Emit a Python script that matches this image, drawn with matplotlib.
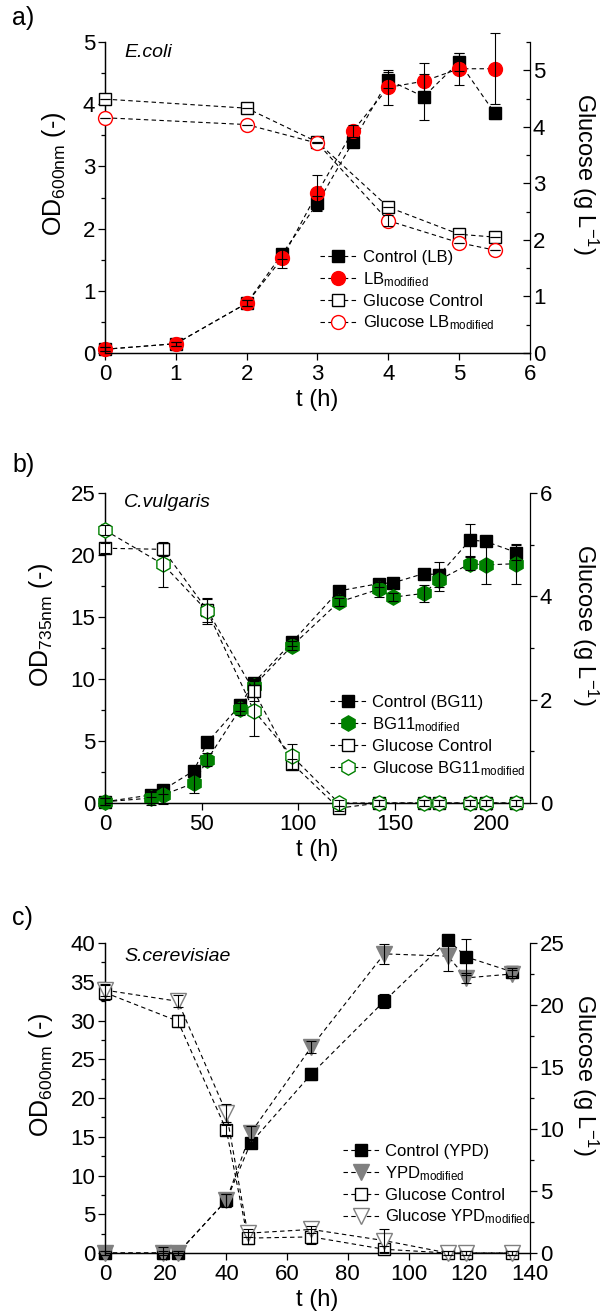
"""
Growth curves (OD) and glucose consumption for E. coli, C. vulgaris and
S. cerevisiae in control vs. modified media. Three stacked panels, twin y axes.
"""
import matplotlib
matplotlib.use("Agg")
import matplotlib.pyplot as plt
from matplotlib.ticker import MultipleLocator

plt.rcParams["font.family"] = ["Liberation Sans", "DejaVu Sans"]
plt.rcParams["mathtext.fontset"] = "custom"
plt.rcParams["mathtext.rm"] = "Liberation Sans"
plt.rcParams["mathtext.it"] = "Liberation Sans:italic"
plt.rcParams["mathtext.default"] = "regular"

# ---- a) E. coli ----
T_A       = [0, 1, 2, 2.5, 3, 3.5, 4, 4.5, 5, 5.5]
OD_LB     = [0.06, 0.15, 0.80, 1.59, 2.41, 3.39, 4.39, 4.12, 4.68, 3.86]
OD_LB_ERR = [0.03, 0.03, 0.05, 0.08, 0.12, 0.05, 0.13, 0.37, 0.15, 0.10]
OD_LBM     = [0.06, 0.15, 0.80, 1.52, 2.58, 3.57, 4.27, 4.37, 4.57, 4.57]
OD_LBM_ERR = [0.03, 0.03, 0.05, 0.15, 0.28, 0.10, 0.28, 0.29, 0.26, 0.57]
T_A_GLU     = [0, 2, 3, 4, 5, 5.5]
GLU_LB      = [4.49, 4.33, 3.73, 2.58, 2.10, 2.05]
GLU_LB_ERR  = [0.0, 0.0, 0.0, 0.0, 0.0, 0.0]
GLU_LBM     = [4.16, 4.04, 3.71, 2.34, 1.95, 1.82]
GLU_LBM_ERR = [0.0, 0.0, 0.0, 0.10, 0.0, 0.0]

# ---- b) C. vulgaris ----
T_B         = [0, 24, 30, 46, 53, 70, 77, 97, 121, 142, 149, 165, 173, 189, 197, 213]
OD_BG       = [0.1, 0.65, 1.05, 2.6, 4.9, 7.9, 9.7, 13.0, 17.1, 17.7, 17.75, 18.5, 18.4, 21.2, 21.1, 20.2]
OD_BG_ERR   = [0.3, 0.2, 0.3, 0.3, 0.2, 0.5, 0.3, 0.3, 0.3, 0.3, 0.3, 0.3, 1.0, 1.3, 0.3, 0.6]
OD_BGM      = [0.1, 0.4, 0.65, 1.6, 3.5, 7.6, 9.45, 12.7, 16.2, 17.25, 16.6, 16.9, 18.0, 19.3, 19.2, 19.3]
OD_BGM_ERR  = [0.3, 0.6, 0.7, 0.8, 0.5, 0.5, 0.5, 0.4, 0.3, 0.6, 0.3, 0.7, 0.9, 0.5, 1.5, 1.6]
T_B_GLU     = [0, 30, 53, 77, 97, 121, 142, 165, 173, 189, 197, 213]
GLU_BG      = [4.93, 4.91, 3.73, 2.17, 0.76, -0.10, 0, 0, 0, 0, 0, 0]
GLU_BG_ERR  = [0.10, 0.12, 0.22, 0.20, 0.10, 0.05, 0.05, 0.05, 0.05, 0.05, 0.05, 0.05]
GLU_BGM     = [5.28, 4.62, 3.71, 1.79, 0.90, 0.0, 0, 0, 0, 0, 0, 0]
GLU_BGM_ERR = [0.10, 0.43, 0.25, 0.50, 0.25, 0.05, 0.05, 0.05, 0.05, 0.05, 0.05, 0.05]

# ---- c) S. cerevisiae ----
T_C          = [0, 19, 24, 40, 48, 68, 92, 113, 119, 134]
OD_YPD       = [0, 0, 0, 6.8, 14.2, 23.1, 32.5, 40.4, 38.2, 36.3]
OD_YPD_ERR   = [0.3, 0.3, 0.3, 0.8, 0.5, 0.8, 0.9, 0.4, 2.3, 0.5]
OD_YPDM      = [0, 0, 0, 6.8, 15.5, 26.6, 38.6, 38.3, 35.5, 36.0]
OD_YPDM_ERR  = [0.3, 0.8, 0.3, 0.8, 0.9, 0.8, 1.3, 1.9, 0.6, 0.5]
T_C_GLU      = [0, 24, 40, 47, 68, 92, 113, 119, 134]
GLU_YPD      = [21.0, 18.7, 9.9, 1.2, 1.3, 0.3, 0, 0, 0]
GLU_YPD_ERR  = [0.6, 0.5, 0.4, 0.5, 0.6, 0.3, 0.2, 0.2, 0.2]
GLU_YPDM     = [21.2, 20.3, 11.3, 1.6, 1.9, 1.0, 0, 0, 0]
GLU_YPDM_ERR = [0.5, 0.5, 0.7, 0.3, 0.3, 0.9, 0.2, 0.2, 0.2]

RED   = "#ff0000"
GREEN = "#008000"
GREY  = "#808080"


def series(ax, t, y, err, label, marker, face, edge, ms):
    line, = ax.plot(t, y, ls=(0, (4, 3)), lw=0.8, color="black", marker=marker,
                    ms=ms, mfc=face, mec=edge, mew=1.0, label=label,
                    clip_on=False, zorder=3)
    ax.errorbar(t, y, yerr=err, fmt="none", ecolor="black", elinewidth=0.8,
                capsize=3.5, capthick=0.8, zorder=4, clip_on=False)
    return line


def style_axes(ax, ax2, xmax, xmaj, ymax, ymaj, y2max, y2maj, right_in=False):
    ax.set_xlim(0, xmax)
    ax.set_ylim(0, ymax)
    ax2.set_ylim(0, y2max)
    ax.xaxis.set_major_locator(MultipleLocator(xmaj))
    ax.yaxis.set_major_locator(MultipleLocator(ymaj))
    ax.yaxis.set_minor_locator(MultipleLocator(ymaj / 2))
    ax2.yaxis.set_major_locator(MultipleLocator(y2maj))
    ax2.yaxis.set_minor_locator(MultipleLocator(y2maj / 2))
    for a in (ax, ax2):
        a.spines["top"].set_visible(False)
        for s in a.spines.values():
            s.set_linewidth(0.9)
    ax.spines["right"].set_visible(False)
    ax.tick_params(which="both", direction="out", labelsize=16, width=0.9, pad=2)
    ax.tick_params(axis="x", pad=3)
    ax.tick_params(which="major", length=5)
    ax.tick_params(which="minor", length=3)
    ax2.tick_params(which="both", direction="in" if right_in else "out",
                    labelsize=16, width=0.9, pad=2)
    ax2.tick_params(which="major", length=5)
    ax2.tick_params(which="minor", length=3)
    ax.set_xlabel("t (h)", fontsize=17, labelpad=3)
    ax2.set_ylabel("Glucose (g L$^{-1}$)", fontsize=17, rotation=270, va="bottom")
    ax2.yaxis.set_label_coords(1.094, 0.575)


def add_legend(ax2, handles, x, y):
    ax2.legend(handles=handles, loc="upper left", bbox_to_anchor=(x, y),
               frameon=False, fontsize=12, borderpad=0, borderaxespad=0,
               handlelength=2.2, handletextpad=0.35, labelspacing=0.3,
               numpoints=1)


def main():
    fig = plt.figure(figsize=(6, 13.16), dpi=100)

    # a) E. coli
    ax = fig.add_axes([0.175, 0.73176, 0.7083, 0.23632])
    ax2 = ax.twinx()
    h1 = series(ax, T_A, OD_LB, OD_LB_ERR, "Control (LB)", "s", "black", "black", 9)
    h2 = series(ax, T_A, OD_LBM, OD_LBM_ERR, "LB$_{modified}$", "o", RED, RED, 10)
    h3 = series(ax2, T_A_GLU, GLU_LB, GLU_LB_ERR, "Glucose Control", "s", "white", "black", 9)
    h4 = series(ax2, T_A_GLU, GLU_LBM, GLU_LBM_ERR, "Glucose LB$_{modified}$", "o", "white", RED, 10)
    style_axes(ax, ax2, 6, 1, 5, 1, 5.5, 1, right_in=True)
    ax.set_ylabel("OD$_{600nm}$ (-)", fontsize=18, labelpad=11, y=0.575)
    ax.text(0.045, 0.965, "E.coli", transform=ax.transAxes, fontsize=14,
            style="italic", va="center")
    add_legend(ax2, [h1, h2, h3, h4], 0.506, 0.331)
    fig.text(0.02, 0.9863, "a)", fontsize=18, va="center")

    # b) C. vulgaris
    ax = fig.add_axes([0.175, 0.38982, 0.7083, 0.23556])
    ax2 = ax.twinx()
    h1 = series(ax, T_B, OD_BG, OD_BG_ERR, "Control (BG11)", "s", "black", "black", 9)
    h2 = series(ax, T_B, OD_BGM, OD_BGM_ERR, "BG11$_{modified}$", "h", GREEN, GREEN, 11)
    h3 = series(ax2, T_B_GLU, GLU_BG, GLU_BG_ERR, "Glucose Control", "s", "white", "black", 9)
    h4 = series(ax2, T_B_GLU, GLU_BGM, GLU_BGM_ERR, "Glucose BG11$_{modified}$", "h", "white", GREEN, 11)
    style_axes(ax, ax2, 220, 50, 25, 5, 6, 2)
    ax.set_ylabel("OD$_{735nm}$ (-)", fontsize=18, labelpad=11, y=0.575)
    ax.text(0.045, 0.968, "C.vulgaris", transform=ax.transAxes, fontsize=14,
            style="italic", va="center")
    add_legend(ax2, [h1, h2, h3, h4], 0.529, 0.348)
    fig.text(0.02, 0.6467, "b)", fontsize=18, va="center")

    # c) S. cerevisiae
    ax = fig.add_axes([0.175, 0.04787, 0.7083, 0.23556])
    ax2 = ax.twinx()
    h1 = series(ax, T_C, OD_YPD, OD_YPD_ERR, "Control (YPD)", "s", "black", "black", 9)
    h2 = series(ax, T_C, OD_YPDM, OD_YPDM_ERR, "YPD$_{modified}$", "v", GREY, GREY, 11)
    h3 = series(ax2, T_C_GLU, GLU_YPD, GLU_YPD_ERR, "Glucose Control", "s", "white", "black", 8)
    h4 = series(ax2, T_C_GLU, GLU_YPDM, GLU_YPDM_ERR, "Glucose YPD$_{modified}$", "v", "white", GREY, 11)
    style_axes(ax, ax2, 140, 20, 40, 5, 25, 5)
    ax.set_ylabel("OD$_{600nm}$ (-)", fontsize=18, labelpad=11, y=0.575)
    ax.text(0.045, 0.955, "S.cerevisiae", transform=ax.transAxes, fontsize=14,
            style="italic", va="center")
    add_legend(ax2, [h1, h2, h3, h4], 0.56, 0.352)
    fig.text(0.02, 0.3024, "c)", fontsize=18, va="center")

    fig.savefig("out.png", dpi=100)


if __name__ == "__main__":
    main()
